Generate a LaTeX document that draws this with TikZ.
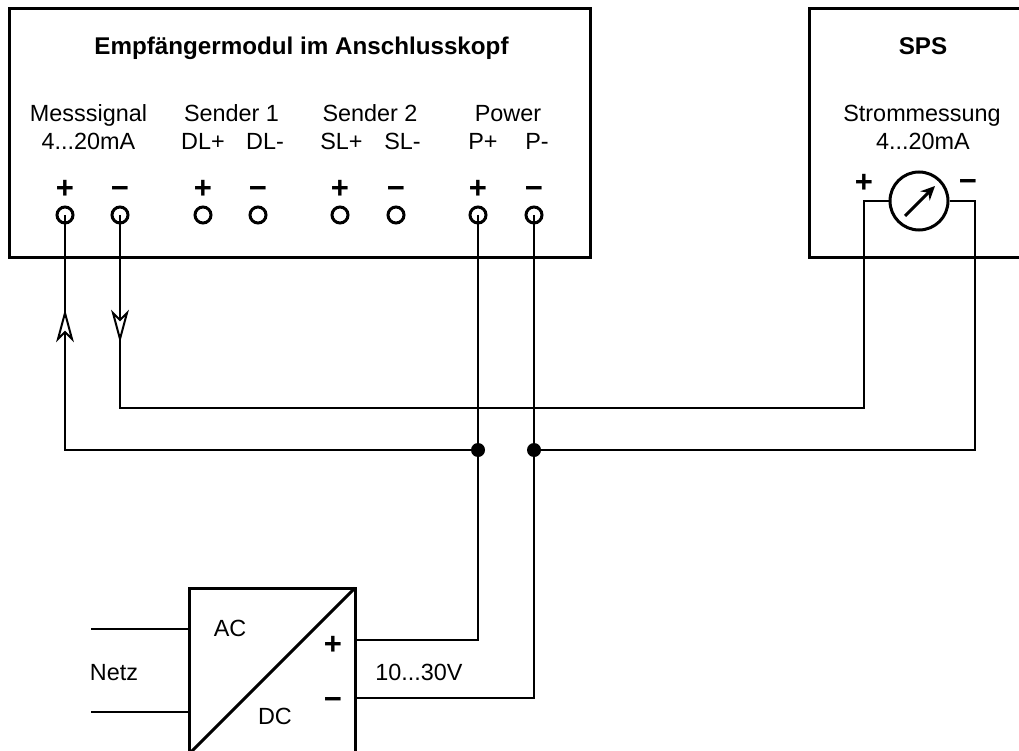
\documentclass[tikz,border=0pt]{standalone}
\usepackage{fontspec}
\usetikzlibrary{arrows.meta}
\setmainfont{Liberation Sans}
\newcommand{\lab}{\fontsize{23.4}{27}\selectfont}
\newcommand{\labb}{\fontsize{24.2}{27}\selectfont\bfseries}
\newcommand{\sgn}{\fontsize{31}{31}\selectfont\bfseries}
\tikzset{
  x=1pt,y=-1pt,
  frame/.style={line width=3pt},
  wire/.style={line width=2pt},
  term/.style={circle,draw,line width=3pt,fill=none,minimum size=16pt,inner sep=0pt},
  dotn/.style={circle,fill=black,minimum size=14pt,inner sep=0pt},
  txt/.style={inner sep=0pt,font=\lab,anchor=base},
  ttl/.style={inner sep=0pt,font=\labb,anchor=base},
  sgp/.style={inner sep=0pt,font=\sgn,yshift=-2pt},
  sgm/.style={inner sep=0pt,font=\sgn,yshift=-5pt},
  meter/.style={circle,draw,line width=3pt,minimum size=58pt,inner sep=0pt},
  head/.style={line width=2pt,fill=white,line join=miter},
}
\begin{document}
\begin{tikzpicture}
\useasboundingbox (0,0) rectangle (1019,751);
\clip (0,0) rectangle (1019,751);
% boxes
\draw[frame] (9,9) rectangle (590,257);
\draw[frame] (1030,9) -- (809,9) -- (809,257) -- (1030,257);
% converter
\draw[frame] (189,588) rectangle (355,765);
\draw[frame] (355,588) -- (189,754);
% texts
\node[ttl] (t1) at (301.5,54.5) {Empfängermodul im Anschlusskopf};
\node[txt] (m1) at (88.5,121.5) {Messsignal};
\node[txt] (m2) at (88.5,150) {4...20mA};
\node[txt] (s1) at (231.5,121.5) {Sender 1};
\node[txt] (dlp) at (203,150) {DL+};
\node[txt] (dlm) at (265,150) {DL-};
\node[txt] (s2) at (370,121.5) {Sender 2};
\node[txt] (slp) at (341.5,150) {SL+};
\node[txt] (slm) at (402.5,150) {SL-};
\node[txt] (pw) at (508,121.5) {Power};
\node[txt] (pp) at (483,150) {P+};
\node[txt] (pm) at (537,150) {P-};
\node[ttl] (sps) at (923,54.5) {SPS};
\node[txt] (st) at (922,121.5) {Strommessung};
\node[txt] (st2) at (923,150) {4...20mA};
\node[txt] (netz) at (114,680) {Netz};
\node[txt] (ac) at (230,636) {AC};
\node[txt] (dc) at (275,724) {DC};
\node[txt] (v) at (419,680) {10...30V};
% signs
\foreach \n/\x in {a/65,c/203,e/340,g/478}{\node[sgp] (p\n) at (\x,187) {+};}
\foreach \n/\x in {b/120,d/258,f/396,h/534}{\node[sgm] (p\n) at (\x,187) {−};}
\node[sgp] (sp) at (864,181) {+};
\node[sgm] (sm) at (968,180) {−};
\node[sgp] (cp) at (333,643) {+};
\node[sgm] (cm) at (333,698) {−};
% terminals
\foreach \n/\x in {a/65,b/120,c/203,d/258,e/340,f/396,g/478,h/534}{\node[term] (T\n) at (\x,215) {};}
% meter
\node[meter] (M) at (919,201) {};
\draw[line width=3pt,-{Stealth[length=14pt,width=13pt]}] (905,216) -- (935,186);
% junctions
\node[dotn] (J1) at (478,450) {};
\node[dotn] (J2) at (534,450) {};
% anchors
\coordinate (cv1) at (355,640);
\coordinate (cv2) at (355,698);
\coordinate (n1a) at (91,629);
\coordinate (n1b) at (189,629);
\coordinate (n2a) at (91,712);
\coordinate (n2b) at (189,712);
% wires
\draw[wire] (Ta.center) -- (65,450) -- (J1.center);
\draw[wire] (Tb.center) -- (120,408) -- (864,408) -- (864,201) -- (M.west);
\draw[wire] (J2.center) -- (975,450) -- (975,201) -- (M.east);
\draw[wire] (Tg.center) -- (J1.center) -- (478,640) -- (cv1);
\draw[wire] (Th.center) -- (J2.center) -- (534,698) -- (cv2);
\draw[wire] (n1a) -- (n1b);
\draw[wire] (n2a) -- (n2b);
% arrowheads
\draw[head] (65,313) -- (72,339) -- (65,332) -- (58,339) -- cycle;
\draw[head] (120,339) -- (127,313) -- (120,320) -- (113,313) -- cycle;
\end{tikzpicture}
\end{document}
